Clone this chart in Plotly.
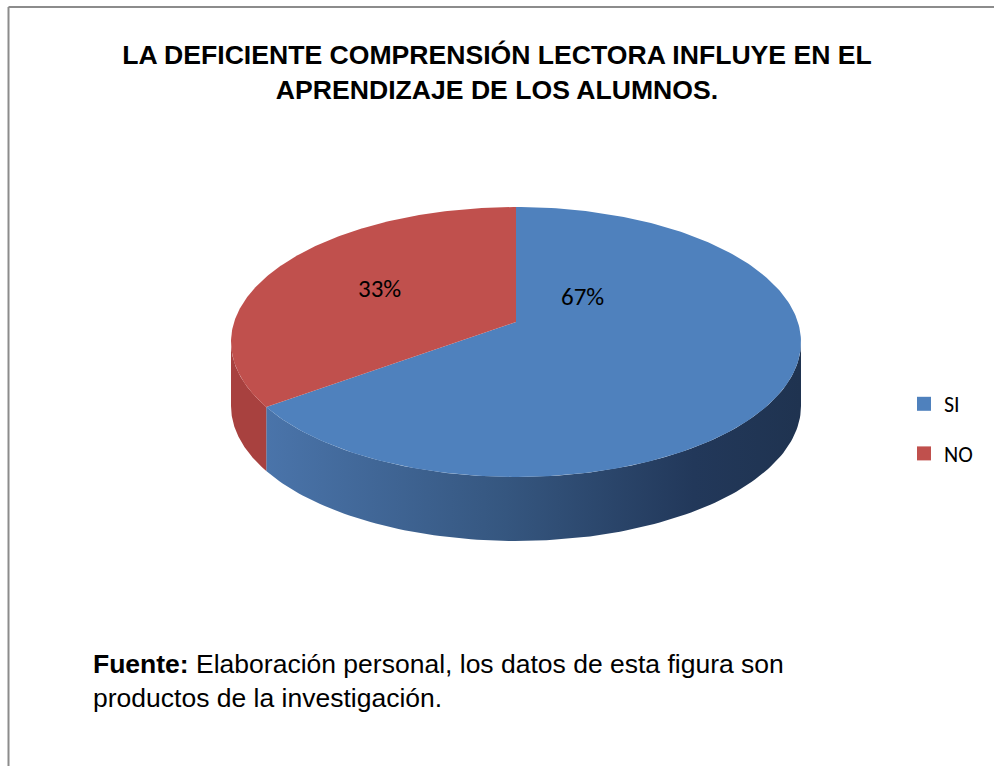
import numpy as np
import plotly.graph_objects as go

# data
categories = ["SI", "NO"]
values = [67, 33]
colors_top = ["#4F81BD", "#C0504D"]
side_scales = [
    [[0, "#4A74AA"], [0.45, "#35567F"], [0.8, "#22385A"], [1, "#1F3350"]],
    [[0, "#A8413F"], [1, "#A8413F"]],
]
title_text = "<b>LA DEFICIENTE COMPRENSIÓN LECTORA INFLUYE EN EL<br>APRENDIZAJE DE LOS ALUMNOS.</b>"
source_text = ("<b>Fuente:</b> Elaboración personal, los datos de esta figura son<br>"
               "productos de la investigación.")

# pie geometry (pixel-like canvas)
CX, CY = 516, 342
RX, RY = 285, 135
DEPTH = 64
VERTEX = (516, 322)
LABEL_POS = [(582, 296), (379, 288)]

W, H = 994, 766
FONT = "Liberation Sans, Arial, sans-serif"
LABEL_FONT = "Carlito, Lato, Open Sans, sans-serif"


def rim(theta_deg, dy=0.0):
    t = np.radians(theta_deg)
    return CX + RX * np.sin(t), CY - RY * np.cos(t) + dy


fig = go.Figure()

total = sum(values)
# angles: clockwise from 12 o'clock, first slice goes clockwise
starts = []
acc = 0.0
for v in values:
    starts.append(acc)
    acc += v / total * 360
ends = starts[1:] + [360.0]

# side walls first (front half only: 90..270 deg)
for i, (s, e) in enumerate(zip(starts, ends)):
    a0, a1 = max(s, 90), min(e, 270)
    if a1 <= a0:
        continue
    th = np.linspace(a0, a1, 120)
    xt, yt = rim(th)
    xb, yb = rim(th[::-1], DEPTH)
    fig.add_trace(go.Scatter(
        x=np.concatenate([xt, xb, xt[:1]]),
        y=np.concatenate([yt, yb, yt[:1]]),
        fill="toself",
        fillgradient=dict(type="horizontal", colorscale=side_scales[i]),
        line=dict(width=0),
        mode="lines",
        showlegend=False,
        hoverinfo="skip",
    ))

# top faces
for i, (s, e) in enumerate(zip(starts, ends)):
    th = np.linspace(s, e, 240)
    xa, ya = rim(th)
    fig.add_trace(go.Scatter(
        x=np.concatenate([[VERTEX[0]], xa, [VERTEX[0]]]),
        y=np.concatenate([[VERTEX[1]], ya, [VERTEX[1]]]),
        fill="toself",
        fillcolor=colors_top[i],
        line=dict(width=0),
        mode="lines",
        showlegend=False,
        hoverinfo="skip",
    ))

# legend entries
for name, c in zip(categories, colors_top):
    fig.add_trace(go.Scatter(
        x=[None], y=[None], mode="markers", name=name, legendgroup=name,
        marker=dict(symbol="square", size=14, color=c),
    ))

# percentage labels
for v, (lx, ly) in zip(values, LABEL_POS):
    fig.add_annotation(x=lx, y=ly, text=f"{v / total:.0%}", showarrow=False,
                       font=dict(family=LABEL_FONT, size=25, color="#000"))

fig.add_annotation(x=91, y=681, xref="x", yref="y", xanchor="left", yanchor="middle",
                   align="left", text=source_text, showarrow=False,
                   font=dict(family=FONT, size=26.5, color="#000"))

fig.update_layout(
    width=W, height=H,
    margin=dict(l=0, r=0, t=0, b=0),
    paper_bgcolor="#fff", plot_bgcolor="#fff",
    title=dict(text=title_text, x=0.5, xanchor="center", y=1 - 64 / H, yanchor="middle",
               font=dict(family=FONT, size=26.6, color="#000")),
    xaxis=dict(range=[0, W], visible=False, fixedrange=True),
    yaxis=dict(range=[H, 0], visible=False, fixedrange=True),
    legend=dict(x=904 / W, xanchor="left", y=1 - 383 / H, yanchor="top",
                font=dict(family=LABEL_FONT, size=22, color="#000"),
                tracegroupgap=18, itemwidth=30, bgcolor="rgba(0,0,0,0)"),
    shapes=[
        dict(type="line", xref="paper", yref="paper", x0=8.5 / W, x1=1, y0=1 - 7 / H, y1=1 - 7 / H,
             line=dict(color="#8C8C8C", width=2)),
        dict(type="line", xref="paper", yref="paper", x0=8.5 / W, x1=8.5 / W, y0=0, y1=1 - 7 / H,
             line=dict(color="#8C8C8C", width=2)),
    ],
)

fig.write_html("out.html", config={"displayModeBar": False},
               post_script="document.body.style.margin='0';document.body.style.overflow='hidden';")
